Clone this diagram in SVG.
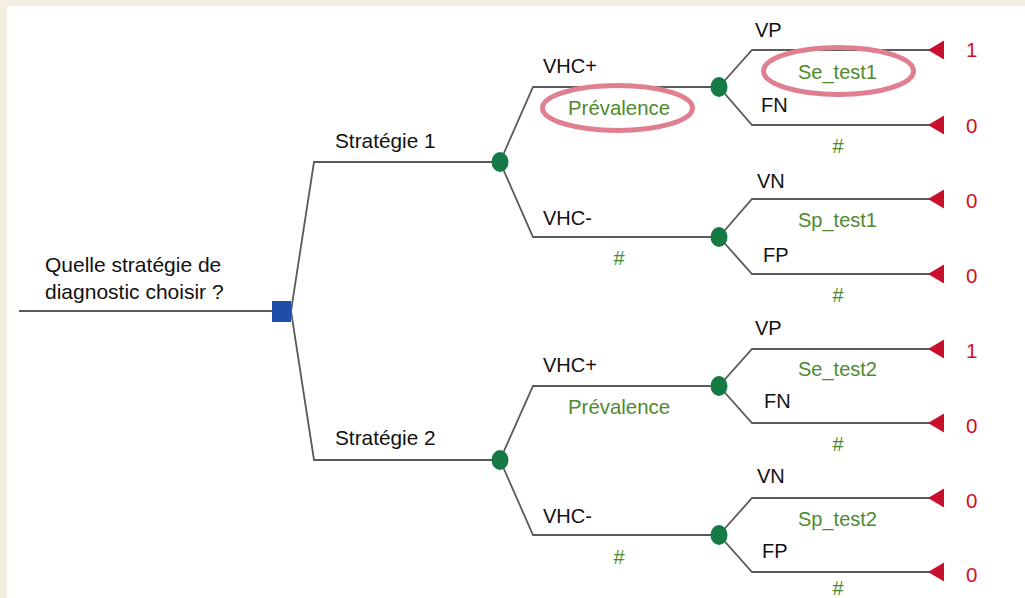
<svg xmlns="http://www.w3.org/2000/svg" width="1025" height="598" viewBox="0 0 1025 598">
<style>
text{font-family:"Liberation Sans",Arial,sans-serif;font-size:20px}
.big{font-size:21px}
.lbl{fill:#111}
.prob{fill:#4E8A2E}
.pay{fill:#D0101E;font-size:20.5px}
.br{fill:none;stroke:#5A5A5A;stroke-width:1.8}
.root{fill:none;stroke:#222;stroke-width:1.3}
.chance{fill:#157A45}
.term{fill:#C8102E}
.hl{fill:none;stroke:#E07F8F;stroke-width:5}
</style>
<rect x="0" y="0" width="1025" height="598" fill="#F3EFE0"/>
<rect x="7" y="6" width="1018" height="592" fill="#FFFFFF"/>

<g id="connectors">
<line class="root" x1="19" y1="311" x2="272" y2="311"/>
<polyline class="br" points="291,311 314,162 500,162"/>
<polyline class="br" points="291,311 314,460 500,460"/>
<polyline class="br" points="500,162 533,87 719,87"/>
<polyline class="br" points="500,162 533,237 719,237"/>
<polyline class="br" points="500,460 533,386 719,386"/>
<polyline class="br" points="500,460 533,535 719,535"/>
<polyline class="br" points="719,87 752,50 930,50"/>
<polyline class="br" points="719,87 752,125 930,125"/>
<polyline class="br" points="719,237 752,199 930,199"/>
<polyline class="br" points="719,237 752,274 930,274"/>
<polyline class="br" points="719,386 752,349 930,349"/>
<polyline class="br" points="719,386 752,423 930,423"/>
<polyline class="br" points="719,535 752,498 930,498"/>
<polyline class="br" points="719,535 752,572 930,572"/>
</g>

<g id="labels">
<text class="lbl" x="335" y="148" style="font-size:20.8px">Stratégie 1</text>
<text class="lbl" x="335" y="445" style="font-size:20.8px">Stratégie 2</text>
<text class="lbl" x="543" y="73">VHC+</text>
<text class="prob" x="568" y="115" style="font-size:20.4px">Prévalence</text>
<text class="lbl" x="543" y="225">VHC-</text>
<text class="prob" x="619" y="265" text-anchor="middle">#</text>
<text class="lbl" x="543" y="372">VHC+</text>
<text class="prob" x="568" y="414" style="font-size:20.4px">Prévalence</text>
<text class="lbl" x="543" y="523">VHC-</text>
<text class="prob" x="619" y="564" text-anchor="middle">#</text>

<text class="lbl" x="755" y="37">VP</text>
<text class="prob" x="798" y="79">Se_test1</text>
<text class="lbl" x="761" y="112">FN</text>
<text class="prob" x="838" y="153" text-anchor="middle">#</text>
<text class="lbl" x="757" y="188">VN</text>
<text class="prob" x="798" y="227">Sp_test1</text>
<text class="lbl" x="763" y="262">FP</text>
<text class="prob" x="838" y="302" text-anchor="middle">#</text>

<text class="lbl" x="755" y="335">VP</text>
<text class="prob" x="798" y="376">Se_test2</text>
<text class="lbl" x="764" y="408">FN</text>
<text class="prob" x="838" y="451" text-anchor="middle">#</text>
<text class="lbl" x="757" y="483">VN</text>
<text class="prob" x="798" y="526">Sp_test2</text>
<text class="lbl" x="762" y="558">FP</text>
<text class="prob" x="838" y="595" text-anchor="middle">#</text>
</g>

<g id="highlights">
<ellipse class="hl" cx="617.5" cy="108" rx="75" ry="22.5"/>
<ellipse class="hl" cx="838.5" cy="71" rx="75" ry="23.5"/>
</g>

<g id="decision">
<text class="lbl big" x="45" y="272">Quelle stratégie de</text>
<text class="lbl big" x="45" y="299">diagnostic choisir ?</text>
<rect x="272" y="301" width="19" height="21" fill="#1F4EA8"/>
</g>

<g id="chance-s1"><ellipse class="chance" cx="500" cy="162" rx="8.5" ry="10"/></g>
<g id="chance-s2"><ellipse class="chance" cx="500" cy="460" rx="8.5" ry="10"/></g>
<g id="chance-s1-pos"><ellipse class="chance" cx="719" cy="87" rx="8.5" ry="10"/></g>
<g id="chance-s1-neg"><ellipse class="chance" cx="719" cy="237" rx="8.5" ry="10"/></g>
<g id="chance-s2-pos"><ellipse class="chance" cx="719" cy="386" rx="8.5" ry="10"/></g>
<g id="chance-s2-neg"><ellipse class="chance" cx="719" cy="535" rx="8.5" ry="10"/></g>

<g id="term-1"><polygon class="term" points="928,50 944,40.5 944,59.5"/><text class="pay" x="966" y="57">1</text></g>
<g id="term-2"><polygon class="term" points="928,125 944,115.5 944,134.5"/><text class="pay" x="966" y="133">0</text></g>
<g id="term-3"><polygon class="term" points="928,199 944,189.5 944,208.5"/><text class="pay" x="966" y="208">0</text></g>
<g id="term-4"><polygon class="term" points="928,274 944,264.5 944,283.5"/><text class="pay" x="966" y="283">0</text></g>
<g id="term-5"><polygon class="term" points="928,349 944,339.5 944,358.5"/><text class="pay" x="966" y="358">1</text></g>
<g id="term-6"><polygon class="term" points="928,423 944,413.5 944,432.5"/><text class="pay" x="966" y="433">0</text></g>
<g id="term-7"><polygon class="term" points="928,498 944,488.5 944,507.5"/><text class="pay" x="966" y="508">0</text></g>
<g id="term-8"><polygon class="term" points="928,572 944,562.5 944,581.5"/><text class="pay" x="966" y="582">0</text></g>
</svg>
